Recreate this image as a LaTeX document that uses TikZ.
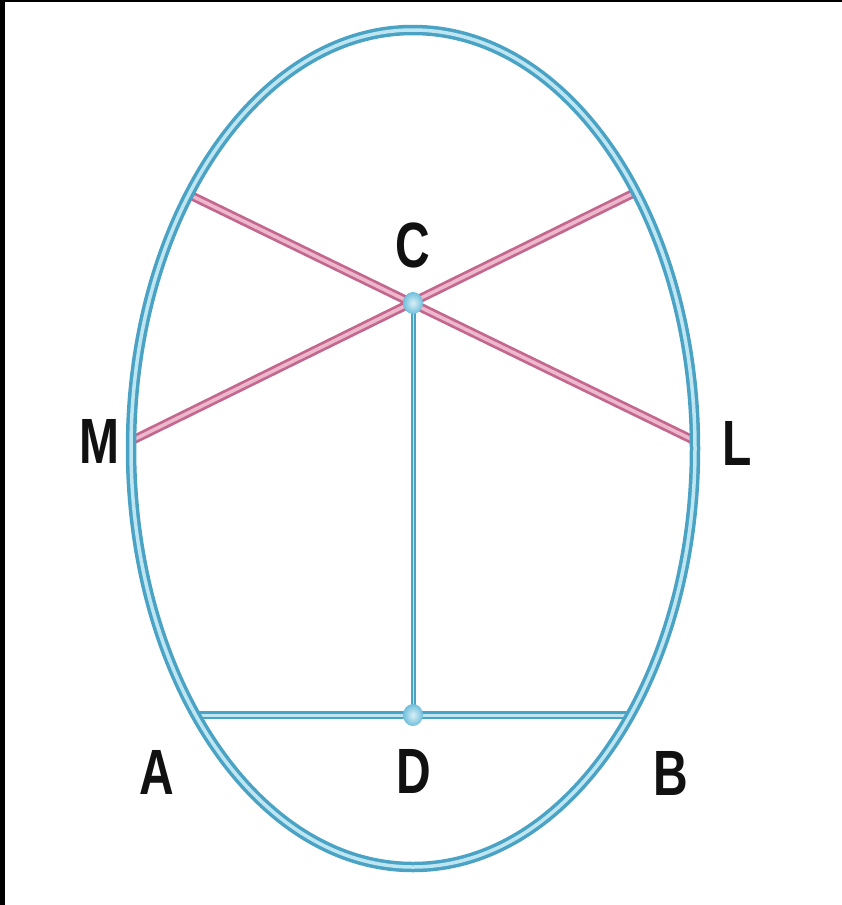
\documentclass[tikz,border=0pt]{standalone}
\usepackage{fontspec}
\setmainfont{Liberation Sans}
\definecolor{blueedge}{HTML}{4AA2C4}
\definecolor{bluecore}{HTML}{BEE6F2}
\definecolor{pinkedge}{HTML}{C4678F}
\definecolor{pinkcore}{HTML}{EDB7CC}
\definecolor{ballblue}{HTML}{6FBFDC}
\definecolor{ink}{HTML}{111111}
\begin{document}
\begin{tikzpicture}[x=1pt,y=-1pt,
  lbl/.style={font=\fontsize{64}{64}\selectfont\bfseries, text=ink, inner sep=0pt},
  pinkbar/.style={line width=9pt, draw=pinkedge},
  pinkcorebar/.style={line width=3.5pt, draw=pinkcore},
  bluebar/.style={line width=#1, draw=blueedge},
  bluecorebar/.style={line width=#1, draw=bluecore},
  ballstyle/.style={inner color=white!75!ballblue, outer color=ballblue}]
\useasboundingbox (0,0) rectangle (842,905);
\fill[white] (0,0) rectangle (842,905);
\fill[black] (0,0) rectangle (5,905);
\fill[black] (0,0) rectangle (842,2);
% points
\coordinate (O) at (413,448.5);
\coordinate (C) at (413,303);
\coordinate (D) at (413,715);
\coordinate (P1) at (192,196);
\coordinate (Lend) at (693,440);
\coordinate (Mend) at (133,440);
\coordinate (P2) at (636,192);
\coordinate (Aend) at (198,715);
\coordinate (Bend) at (630,715);
% pink chords
\draw[pinkbar] (P1) -- (Lend);
\draw[pinkbar] (Mend) -- (P2);
\draw[pinkcorebar] (P1) -- (Lend);
\draw[pinkcorebar] (Mend) -- (P2);
% blue segments
\draw[bluebar=8pt] (Aend) -- (Bend);
\draw[bluecorebar=3pt] (Aend) -- (Bend);
\draw[bluebar=5pt] (C) -- (D);
\draw[bluecorebar=1pt] (C) -- (D);
% ellipse
\draw[blueedge, line width=10.5pt] (O) ellipse [x radius=282pt, y radius=418.5pt];
\draw[bluecore, line width=3.5pt] (O) ellipse [x radius=282pt, y radius=418.5pt];
% balls
\shade[ballstyle] (C) ellipse [x radius=10pt, y radius=11pt];
\shade[ballstyle] (D) ellipse [x radius=10pt, y radius=11pt];
% labels
\node[lbl] (lC) at (413,245) {\scalebox{0.75}[1]{C}};
\node[lbl] (lM) at (99,441) {\scalebox{0.75}[1]{M}};
\node[lbl] (lL) at (737,443) {\scalebox{0.75}[1]{L}};
\node[lbl] (lA) at (157,772) {\scalebox{0.75}[1]{A}};
\node[lbl] (lD) at (414,771) {\scalebox{0.75}[1]{D}};
\node[lbl] (lB) at (671,773) {\scalebox{0.75}[1]{B}};
\end{tikzpicture}
\end{document}
